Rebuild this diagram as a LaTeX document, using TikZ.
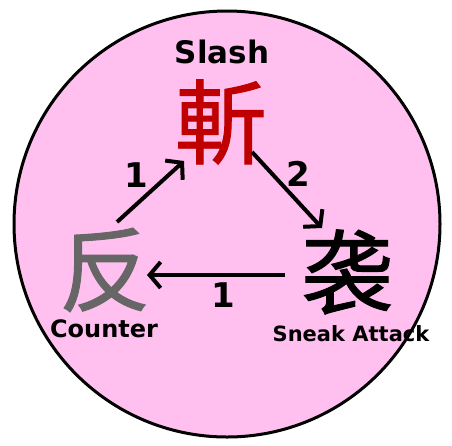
\documentclass[tikz,border=0pt]{standalone}
\usepackage{fontspec}
\setmainfont{DejaVu Sans}
\newfontfamily\cjk{Noto Sans CJK SC}[FakeBold=1]
\usetikzlibrary{arrows.meta}
\definecolor{pinkfill}{HTML}{FFBFEF}
\definecolor{slashred}{HTML}{C00000}
\definecolor{cgray}{HTML}{666666}
\tikzset{
  kanji/.style={inner sep=0pt, font=\cjk\fontsize{92}{92}\selectfont},
  lbl/.style={inner sep=0pt, font=\bfseries},
  num/.style={inner sep=0pt, font=\bfseries\fontsize{34}{34}\selectfont},
  arr/.style={line width=4pt, -{Straight Barb[length=11pt,width=26pt,line width=4pt]}},
}
\begin{document}
\begin{tikzpicture}[x=1pt,y=-1pt]
\useasboundingbox (0,0) rectangle (452,445);
\draw[line width=3pt, fill=pinkfill] (227,224) circle (213);
\node[kanji, text=slashred] (zan) at (221,122) {斬};
\node[kanji, text=cgray] (fan) at (105,270) {反};
\node[kanji, text=black] (xi) at (347,272) {袭};
\node[lbl, font=\bfseries\fontsize{31}{31}\selectfont] (slash) at (222,52) {Slash};
\node[lbl, font=\bfseries\fontsize{24}{24}\selectfont] (counter) at (104,329) {Counter};
\node[lbl, font=\bfseries\fontsize{21}{21}\selectfont] (sneak) at (351,334) {Sneak Attack};
\coordinate (a1s) at (117,222);
\coordinate (a1e) at (184,161);
\coordinate (a2s) at (252,152);
\coordinate (a2e) at (322,228);
\coordinate (a3s) at (285,275);
\coordinate (a3e) at (147,275);
\draw[arr] (a1s) -- (a1e);
\draw[arr] (a2s) -- (a2e);
\draw[arr] (a3s) -- (a3e);
\node[num] (n1) at (136,175) {1};
\node[num] (n2) at (298,174) {2};
\node[num] (n3) at (223,295) {1};
\end{tikzpicture}
\end{document}
